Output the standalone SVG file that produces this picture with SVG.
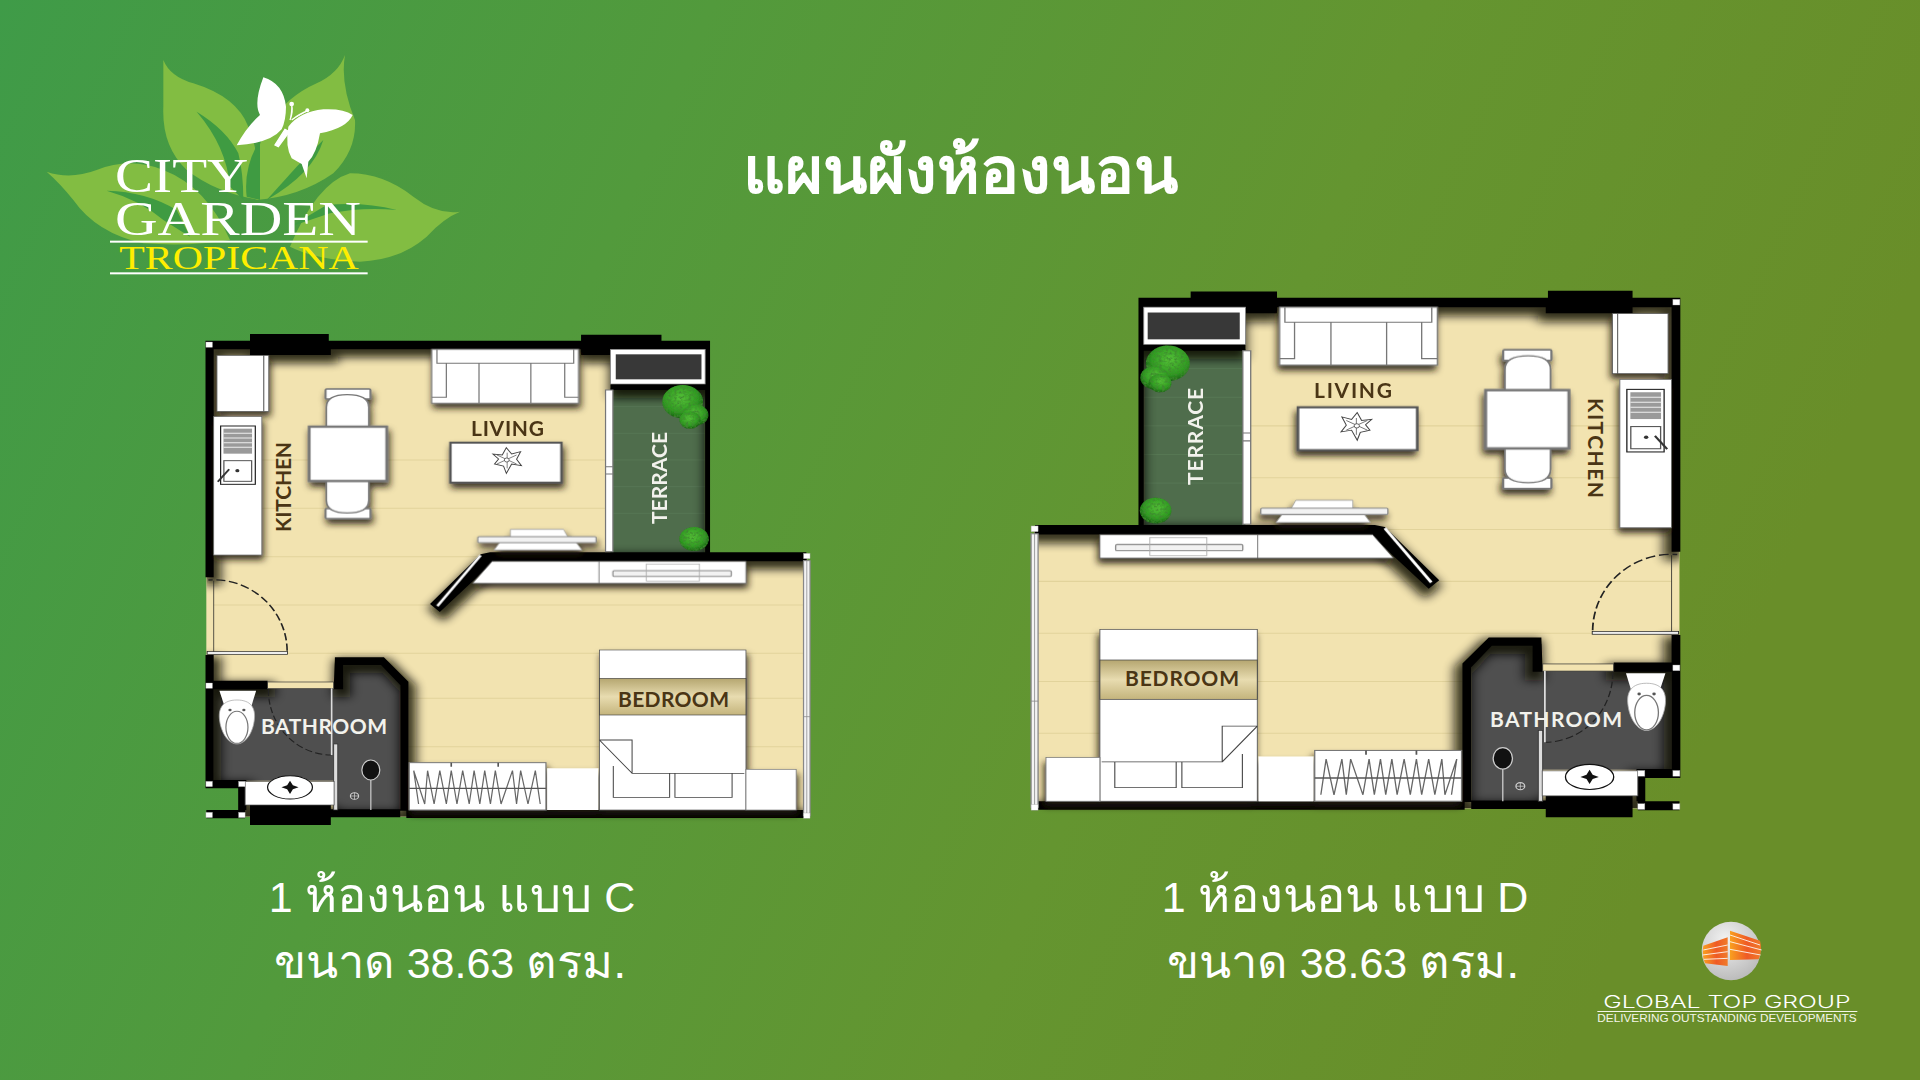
<svg xmlns="http://www.w3.org/2000/svg" xmlns:xlink="http://www.w3.org/1999/xlink" width="1920" height="1080" viewBox="0 0 1920 1080">
<defs>
<linearGradient id="bg" x1="0" y1="0" x2="1" y2="0.25"><stop offset="0" stop-color="#3f9b48"/><stop offset="0.35" stop-color="#529a3c"/><stop offset="0.7" stop-color="#649530"/><stop offset="1" stop-color="#698e29"/></linearGradient>
<linearGradient id="bandv" x1="0" y1="0" x2="0" y2="1"><stop offset="0" stop-color="#b5a670"/><stop offset="0.5" stop-color="#e8dcb0"/><stop offset="1" stop-color="#c4b47c"/></linearGradient>
<radialGradient id="shrub" cx="0.45" cy="0.4" r="0.6"><stop offset="0" stop-color="#56c238"/><stop offset="0.7" stop-color="#2f9a22"/><stop offset="1" stop-color="#1a5f14"/></radialGradient>
<radialGradient id="ball" cx="0.4" cy="0.3" r="0.8"><stop offset="0" stop-color="#f2f2f2"/><stop offset="1" stop-color="#b5b5b5"/></radialGradient>
<linearGradient id="stripe" x1="0" y1="0" x2="1" y2="0"><stop offset="0" stop-color="#f9a020"/><stop offset="0.55" stop-color="#ef5a25"/><stop offset="1" stop-color="#f07b2a"/></linearGradient>
<filter id="sh" x="-20%" y="-20%" width="150%" height="150%"><feDropShadow dx="4" dy="14" stdDeviation="9" flood-color="#1c1808" flood-opacity="0.85"/></filter>
<filter id="wallsh" filterUnits="userSpaceOnUse" x="0" y="0" width="1600" height="1600"><feGaussianBlur stdDeviation="13"/></filter>
<filter id="leafy" x="-5%" y="-5%" width="110%" height="110%"><feTurbulence type="fractalNoise" baseFrequency="0.14" numOctaves="2" seed="4" result="n"/><feColorMatrix in="n" type="matrix" values="0 0 0 0 0.05  0 0 0 0 0.25  0 0 0 0 0.03  2.6 0 0 0 -1.05" result="d"/><feComposite in="d" in2="SourceAlpha" operator="in" result="dd"/><feMerge><feMergeNode in="SourceGraphic"/><feMergeNode in="dd"/></feMerge></filter>
<clipPath id="floorclip"><path d="M40 65H1272V700H1512V1490H120V1400H40Z"/></clipPath>
<path id="walls" d="M40 62H1274V88H1030V105H958V88H345V105H147V88H58V772H38V62ZM147 42H340V62H147ZM958 44H1155V62H958ZM1030 88H1274V700H1262V210H1030ZM735 697H1510V724H745L612 876L588 852L712 703ZM38 1005H58V1082H190V1108H58V1380H138V1470H135V1495H40V1470H118V1405H38ZM147 1455H345V1515H147ZM345 1468H515V1492H345ZM530 1470H1505V1494H530ZM355 1012H475L535 1085V1472H515V1095L468 1035H375V1108H352Z"/>
<g id="square"><rect x="-8" y="-8" width="16" height="16" fill="#fff" stroke="#999" stroke-width="1"/></g>
<g id="chair"><rect x="332" y="207" width="110" height="30" rx="3" fill="#fff" stroke="#777" stroke-width="5"/><path d="M334 322V262Q334 224 385 224Q438 224 438 262V322Z" fill="#fff" stroke="#777" stroke-width="4"/></g>
<g id="plan">
<path d="M40 65H1272V700H1512V1490H120V1400H40Z" fill="#f2e3b0"/>
<path d="M58 420H1030M58 565H1030M58 710H735M58 855H1505M58 1000H1505M535 1135H1505M535 1280H1505" stroke="#e2d39b" stroke-width="3" fill="none"/>
<rect x="1030" y="205" width="234" height="495" fill="#4f6d4c"/>
<path d="M1036 260H1262M1036 340H1262M1036 420H1262M1036 500H1262M1036 580H1262" stroke="#5a7a57" stroke-width="2"/>
<path d="M58 1105H355V1030H470L515 1090V1470H360V1382H58Z" fill="#4f4f4f"/>
<g clip-path="url(#floorclip)"><use xlink:href="#walls" transform="translate(8 14)" fill="#0e0b03" stroke="#0e0b03" stroke-width="20" opacity="0.85" filter="url(#wallsh)"/></g>
<use xlink:href="#walls" fill="#000"/>
<rect x="1030" y="88" width="232" height="104" fill="#fff" stroke="#888" stroke-width="2"/>
<rect x="1043" y="103" width="210" height="75" fill="#383838"/>
<rect x="1018" y="210" width="18" height="485" fill="#fff" stroke="#777" stroke-width="3"/>
<path d="M1018 440H1036M1018 462H1036" stroke="#777" stroke-width="3"/>
<rect x="1503" y="722" width="16" height="765" fill="#f3f3f3" stroke="#888" stroke-width="3"/>
<path d="M1511 722V1487M1503 1190H1519" stroke="#888" stroke-width="2"/>
<g fill="none" stroke="#222">
<path d="M238 992A180 215 0 0 0 45 780" stroke-width="4" stroke-dasharray="22 9"/>
<path d="M58 782V1000" stroke-width="2"/>
<rect x="42" y="995" width="197" height="8" fill="#eee" stroke-width="2"/>
<path d="M192 1110A155 195 0 0 0 345 1305" stroke-width="3" stroke-dasharray="18 8"/>
</g>
<rect x="190" y="1086" width="162" height="20" fill="#f2e3b0" stroke="#333" stroke-width="2"/>
<path d="M347 1105V1305" stroke="#ddd" stroke-width="4"/>
<rect x="352" y="1272" width="10" height="198" fill="#ddd" stroke="#333" stroke-width="2"/>
<rect x="135" y="1385" width="218" height="70" fill="#fff" stroke="#555" stroke-width="2"/>
<ellipse cx="245" cy="1402" rx="55" ry="35" fill="#fff" stroke="#111" stroke-width="3"/>
<path d="M245 1382L252 1396L266 1402L252 1408L245 1422L238 1408L224 1402L238 1396Z" fill="#111"/>
<path d="M72 1112H162L150 1160H85Z" fill="#fff"/>
<path d="M115 1140C150 1140 160 1165 158 1195C155 1240 135 1272 115 1272C95 1272 75 1240 72 1195C70 1165 80 1140 115 1140Z" fill="#fff" stroke="#aaa" stroke-width="2"/>
<ellipse cx="115" cy="1222" rx="27" ry="48" fill="#fff" stroke="#777" stroke-width="3"/>
<circle cx="98" cy="1170" r="4" fill="#555"/><circle cx="132" cy="1170" r="4" fill="#555"/>
<ellipse cx="443" cy="1350" rx="22" ry="30" fill="#111" stroke="#ccc" stroke-width="3"/>
<path d="M443 1380V1470" stroke="#ccc" stroke-width="3"/>
<circle cx="403" cy="1428" r="10" fill="#444" stroke="#ccc" stroke-width="3"/><path d="M393 1428H413M403 1418V1438" stroke="#ccc" stroke-width="2"/>
<g filter="url(#sh)">
<rect x="66" y="106" width="115" height="168" fill="#fff" stroke="#555" stroke-width="2"/>
<rect x="181" y="106" width="12" height="168" fill="#fff" stroke="#555" stroke-width="2"/>
<rect x="58" y="290" width="118" height="415" fill="#fff" stroke="#666" stroke-width="2"/>
</g>
<rect x="75" y="318" width="85" height="175" fill="none" stroke="#222" stroke-width="3"/>
<rect x="82" y="326" width="70" height="75" fill="#9a9a9a"/>
<path d="M82 340H152M82 354H152M82 368H152M82 382H152" stroke="#eee" stroke-width="3"/>
<rect x="83" y="422" width="68" height="62" fill="#fff" stroke="#555" stroke-width="3"/>
<circle cx="116" cy="452" r="5" fill="#333"/>
<path d="M68 485L96 448" stroke="#333" stroke-width="5"/>
<g filter="url(#sh)">
<use xlink:href="#chair"/>
<use xlink:href="#chair" transform="matrix(1 0 0 -1 0 803)"/>
<rect x="292" y="320" width="190" height="163" fill="#fff" stroke="#777" stroke-width="7"/>
<rect x="638" y="368" width="272" height="120" fill="#fff" stroke="#555" stroke-width="6"/>
<rect x="592" y="88" width="360" height="162" fill="#fff" stroke="#777" stroke-width="3"/>
</g>
<path d="M605 88V130H940V88M628 130V232H592M918 130V232H952M708 130V250M835 130V250" fill="none" stroke="#777" stroke-width="3"/>
<path d="M775 383L788 402L810 395L800 418L812 437L788 432L775 460L768 438L746 432L756 417L742 402L765 405Z" fill="#fff" stroke="#444" stroke-width="2.5"/>
<path d="M777 398L777 445M752 405L800 432M800 405L752 432" stroke="#555" stroke-width="2"/><circle cx="776" cy="420" r="6" fill="#fff" stroke="#444" stroke-width="2"/>
<g filter="url(#sh)">
<path d="M745 690L770 650H785L785 628H915L925 650H935L960 690Z" fill="#fff" stroke="#999" stroke-width="2"/>
<rect x="705" y="650" width="290" height="18" rx="3" fill="#f2f2f2" stroke="#888" stroke-width="3"/>
<path d="M740 724H1362V790H692Z" fill="#fff" stroke="#555" stroke-width="2"/>
</g>
<path d="M1002 724V790" stroke="#555" stroke-width="2"/>
<rect x="1036" y="752" width="290" height="17" rx="3" fill="#f2f2f2" stroke="#888" stroke-width="3"/>
<rect x="1118" y="733" width="130" height="50" fill="none" stroke="#aaa" stroke-width="2"/>
<path d="M606 858L712 706" stroke="#fff" stroke-width="7"/>
<g filter="url(#sh)">
<rect x="537" y="1328" width="335" height="142" fill="#fff" stroke="#777" stroke-width="3"/>
<rect x="875" y="1345" width="125" height="125" fill="#fff"/>
<rect x="1003" y="990" width="359" height="480" fill="#fff" stroke="#555" stroke-width="2"/>
<rect x="1362" y="1348" width="123" height="122" fill="#fff" stroke="#777" stroke-width="2"/>
</g>
<path d="M560 1452L548 1352L575 1452L582 1352L598 1452L612 1352L628 1452L640 1352L654 1452L668 1352L684 1452L696 1352L710 1452L722 1352L736 1452L748 1352L762 1452L790 1352L800 1452L810 1352L828 1452L846 1352L858 1452" fill="none" stroke="#666" stroke-width="3"/>
<path d="M537 1405H872M640 1328V1340M755 1328V1340" fill="none" stroke="#555" stroke-width="4"/>
<rect x="1003" y="1075" width="359" height="110" fill="url(#bandv)" stroke="#444" stroke-width="2"/>
<path d="M1003 1260H1083V1360H1358M1083 1360L1003 1260M1037 1338V1432H1175V1360M1188 1360V1432H1328V1360" fill="none" stroke="#444" stroke-width="2.5"/>
<g filter="url(#leafy)">
<circle cx="1207" cy="245" r="50" fill="url(#shrub)"/><circle cx="1238" cy="285" r="32" fill="url(#shrub)"/><circle cx="1225" cy="300" r="26" fill="url(#shrub)"/>
<circle cx="1235" cy="657" r="36" fill="url(#shrub)"/>
</g>
<use xlink:href="#square" x="47" y="74"/><use xlink:href="#square" x="47" y="1097"/><use xlink:href="#square" x="47" y="1392"/><use xlink:href="#square" x="127" y="1392"/><use xlink:href="#square" x="47" y="1485"/><use xlink:href="#square" x="127" y="1485"/><use xlink:href="#square" x="1511" y="708"/><use xlink:href="#square" x="1511" y="1487"/>
</g>
</defs>
<style>
.title{font-family:"Noto Sans","Noto Sans CJK SC",sans-serif;font-weight:700;font-size:65px;fill:#fff;text-anchor:middle}
.cap{font-family:"Liberation Sans","Noto Sans",sans-serif;font-size:43px;fill:#fff;text-anchor:middle}
.th{font-size:49px}
.th2{font-size:47px}
.rb{font-family:"Lato","Liberation Sans",sans-serif;font-weight:700;font-size:21px;fill:#4a3515}
.rw{font-family:"Lato","Liberation Sans",sans-serif;font-weight:700;font-size:21px;fill:#f2f2ec}
.lg{font-family:"Liberation Serif",serif;fill:#fff}
.gt{font-family:"Liberation Sans",sans-serif;fill:#f4f6e8}
.gl{font-family:"Inter","Liberation Sans",sans-serif;font-weight:300;fill:#fff}
</style>
<rect width="1920" height="1080" fill="url(#bg)"/>

<g id="logo-city-garden" transform="translate(30 40) scale(.33333)">
<g fill="#82bd42">
<path d="M400 60Q420 110 490 130Q620 170 655 260Q690 340 690 480Q560 460 470 390Q395 320 400 200Z"/>
<path d="M945 45Q925 100 860 130Q770 170 720 250Q660 340 680 480Q810 470 910 400Q980 330 975 240Q930 130 945 45Z"/>
<path d="M50 395Q120 420 200 390Q300 350 400 390Q530 440 600 600Q480 620 340 610Q200 580 130 480Q90 430 50 395Z"/>
<path d="M1290 515Q1220 525 1150 470Q1060 400 960 400Q860 430 780 620Q860 660 990 665Q1110 660 1190 590Q1240 535 1290 515Z"/>
</g>
<g fill="#3f9b42">
<path d="M500 215Q590 270 625 340Q640 400 640 480L600 440Q590 320 500 215Z"/>
<path d="M690 300L690 480L650 470Q640 380 690 300Z"/>
<path d="M880 300Q850 400 710 480L800 380Z"/>
<path d="M230 452Q350 455 440 510L480 590L400 540Q330 480 230 452Z"/>
<path d="M1100 510Q1000 485 890 495L780 560L900 520Q1000 500 1100 510Z"/>
</g>
<path d="M700 112Q760 130 768 200Q768 240 755 268Q720 310 620 316Q650 260 690 225Q670 190 700 112Z" fill="#fff"/>
<path d="M968 225Q940 205 880 208Q810 215 775 260Q765 320 785 355L815 372L830 415L835 365Q860 340 870 280Q950 265 968 225Z" fill="#fff"/>
<path d="M765 268L735 315L745 320L778 275ZM780 240Q790 215 785 195M785 240Q810 220 835 212" fill="#fff" stroke="#fff" stroke-width="4"/>
<circle cx="785" cy="192" r="7" fill="#fff"/><circle cx="832" cy="211" r="6" fill="#fff"/>
<text class="lg" x="255" y="455" font-size="148" textLength="400" lengthAdjust="spacingAndGlyphs">CITY</text>
<text class="lg" x="255" y="585" font-size="148" textLength="738" lengthAdjust="spacingAndGlyphs">GARDEN</text>
<rect x="240" y="602" width="773" height="6" fill="#fff"/>
<text class="lg" x="268" y="688" font-size="104" textLength="718" lengthAdjust="spacingAndGlyphs" style="fill:#ffee00">TROPICANA</text>
<rect x="240" y="697" width="773" height="6" fill="#fff"/>
</g>

<text id="title" class="title" x="960" y="193">แผนผังห้องนอน</text>

<g id="plan-c">
<use xlink:href="#plan" transform="translate(190 320) scale(.4082 .33333)"/>
<text class="rb" transform="translate(291 532) rotate(-90)" textLength="90">KITCHEN</text>
<text class="rb" x="471" y="436" textLength="73">LIVING</text>
<text class="rw" transform="translate(667 524) rotate(-90)" textLength="92">TERRACE</text>
<text class="rw" x="261" y="734" textLength="126">BATHROOM</text>
<text class="rb" x="618" y="707" textLength="111">BEDROOM</text>
</g>

<g id="plan-d">
<use xlink:href="#plan" transform="matrix(-.4384 0 0 .3575 1697 275.7)"/>
<text class="rb" transform="translate(1588 398) rotate(90)" textLength="100">KITCHEN</text>
<text class="rb" x="1314" y="398" textLength="78">LIVING</text>
<text class="rw" transform="translate(1203 485) rotate(-90)" textLength="97">TERRACE</text>
<text class="rw" x="1490" y="727" textLength="132">BATHROOM</text>
<text class="rb" x="1125" y="686" textLength="114">BEDROOM</text>
</g>

<g id="captions">
<text class="cap" x="452" y="912">1 <tspan class="th">ห้องนอน แบบ</tspan> C</text>
<text class="cap" x="450" y="978"><tspan class="th2">ขนาด</tspan> 38.63 <tspan class="th2">ตรม.</tspan></text>
<text class="cap" x="1345" y="912">1 <tspan class="th">ห้องนอน แบบ</tspan> D</text>
<text class="cap" x="1343" y="978"><tspan class="th2">ขนาด</tspan> 38.63 <tspan class="th2">ตรม.</tspan></text>
</g>

<g id="logo-global-top" transform="translate(1580 900) scale(.33333)">
<circle cx="453" cy="153" r="88" fill="url(#ball)"/>
<path d="M370 137L443 112V198L375 190Q365 165 370 137Z" fill="url(#stripe)"/>
<path d="M450 92L540 122Q548 150 536 178L450 180Z" fill="url(#stripe)"/>
<path d="M370 150L443 135M368 165L443 155M372 178L443 175M450 105L540 135M450 125L545 150M450 148L542 165" stroke="#fff" stroke-width="2.5" fill="none"/>
<text class="gl" x="70" y="325" font-size="52" textLength="742" lengthAdjust="spacingAndGlyphs">GLOBAL TOP GROUP</text>
<rect x="52" y="333" width="780" height="3" fill="#f4f6e8"/>
<text class="gt" x="52" y="367" font-size="30" textLength="778" lengthAdjust="spacingAndGlyphs">DELIVERING OUTSTANDING DEVELOPMENTS</text>
</g>
</svg>
